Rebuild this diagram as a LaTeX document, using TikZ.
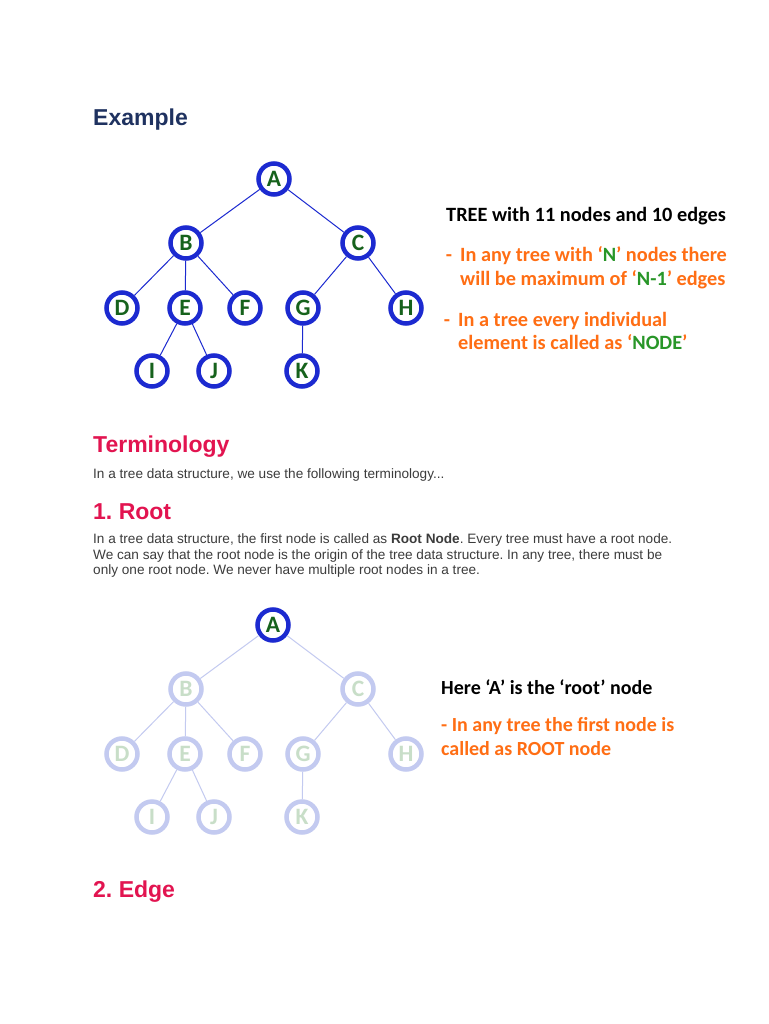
\documentclass[tikz,border=0pt]{standalone}
\usepackage{fontspec}
\setmainfont{Liberation Sans}
\newfontfamily\calibri{Carlito}
\usetikzlibrary{positioning}

\definecolor{navy}{RGB}{31,50,96}
\definecolor{crimson}{RGB}{226,20,80}
\definecolor{bodygray}{RGB}{60,60,60}
\definecolor{ringblue}{RGB}{28,42,208}
\definecolor{lettergreen}{RGB}{22,98,28}
\definecolor{noteorange}{RGB}{255,110,20}
\definecolor{notegreen}{RGB}{40,150,40}
\definecolor{fadeblue}{RGB}{195,202,240}
\definecolor{fadegreen}{RGB}{200,222,200}

\begin{document}
\frenchspacing
\begin{tikzpicture}[x=1pt, y=-1pt,
        tnode/.style={circle, draw=ringblue, line width=4.5pt, minimum size=31pt,
                      inner sep=0pt, text=lettergreen,
                      font=\calibri\bfseries\fontsize{23.5}{24}\selectfont},
        fnode/.style={tnode, draw=fadeblue, text=fadegreen},
        tedge/.style={draw=ringblue, line width=1pt},
        fedge/.style={draw=fadeblue, line width=1pt},
        heading/.style={anchor=base west, inner sep=0pt,
                        font=\bfseries\fontsize{23}{27}\selectfont},
        body/.style={anchor=base west, inner sep=0pt, align=left, text=bodygray,
                     font=\fontsize{13.6}{15.5}\selectfont},
        note/.style={anchor=base west, inner sep=0pt, align=left, text=noteorange,
                     font=\calibri\bfseries\fontsize{20.3}{24}\selectfont},
    ]
    \useasboundingbox[fill=white] (0,0) rectangle (768,1024);

    % Example
    \node[heading, text=navy] (example) at (93,126) {Example};

    % first tree
    \foreach \n/\t/\x/\y in {a/A/274/179, b/B/186/243, c/C/358/243,
                             d/D/122/308, e/E/185/308, f/F/245/308,
                             g/G/303/308, h/H/406/308,
                             i/I/152/371, j/J/214/371, k/K/302/371}
        \node[tnode] (\n) at (\x,\y) {\t};
    \foreach \p/\c in {a/b, a/c, b/d, b/e, b/f, e/i, e/j, c/g, c/h, g/k}
        \draw[tedge] (\p) -- (\c);

    % notes on the first tree (base = last line)
    \node[note, text=black] (count) at (446,222) {TREE with 11 nodes and 10 edges};
    \node[note] (edges) at (460,285)
        {\llap{-\hspace{8pt}}In any tree with ‘\textcolor{notegreen}{N}’ nodes there\\
         will be maximum of ‘\textcolor{notegreen}{N-1}’ edges};
    \node[note, font=\calibri\bfseries\fontsize{20.3}{23}\selectfont] (element) at (458,349)
        {\llap{-\hspace{8pt}}In a tree every individual\\
         element is called as ‘\textcolor{notegreen}{NODE}’};

    % Terminology
    \node[heading, text=crimson] (terms) at (93,452) {Terminology};
    \node[body] (intro) at (93,478) {In a tree data structure, we use the following terminology...};

    % 1. Root
    \node[heading, text=crimson] (root) at (93,519) {1. Root};
    \node[body] (rootpar) at (93,574.5)
        {In a tree data structure, the first node is called as \textbf{Root Node}. Every tree must have a root node.\\
         We can say that the root node is the origin of the tree data structure. In any tree, there must be\\
         only one root node. We never have multiple root nodes in a tree.};

    % second tree, root highlighted
    \node[tnode] (ra) at (273,625) {A};
    \foreach \n/\t/\x/\y in {b/B/186/243, c/C/358/243,
                             d/D/122/308, e/E/185/308, f/F/245/308,
                             g/G/303/308, h/H/406/308,
                             i/I/152/371, j/J/214/371, k/K/302/371}
        \node[fnode] (r\n) at (\x,\y+446) {\t};
    \foreach \p/\c in {a/b, a/c, b/d, b/e, b/f, e/i, e/j, c/g, c/h, g/k}
        \draw[fedge] (r\p) -- (r\c);

    % notes on the second tree
    \node[note, text=black, font=\calibri\bfseries\fontsize{20}{24}\selectfont] (here) at (441,694)
        {Here ‘A’ is the ‘root’ node};
    \node[note, font=\calibri\bfseries\fontsize{20}{24}\selectfont] (first) at (441,755)
        {- In any tree the first node is\\
         called as ROOT node};

    % 2. Edge
    \node[heading, text=crimson] (edge) at (93,897) {2. Edge};

\end{tikzpicture}
\end{document}
